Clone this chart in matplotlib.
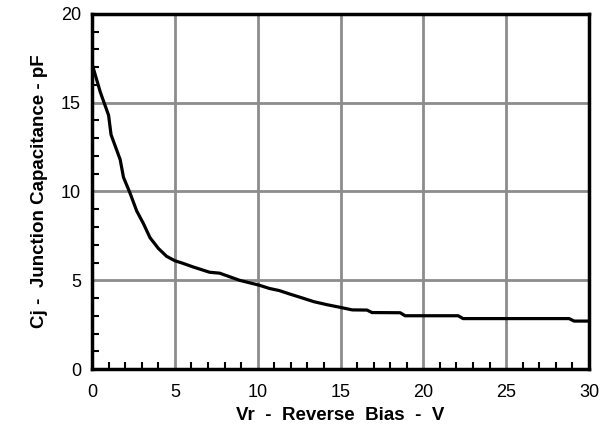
import matplotlib
matplotlib.use("Agg")
import matplotlib.pyplot as plt
from matplotlib.ticker import MultipleLocator

# reverse bias (V) and junction capacitance (pF)
vr = [0, 0.5, 1.0, 1.15, 1.7, 1.9, 2.3, 2.7, 3.1, 3.5, 4.0, 4.5, 5.0, 5.5,
      6.1, 6.6, 7.1, 7.7, 8.3, 8.9, 9.5, 10.1, 10.7, 11.3, 11.95, 12.7,
      13.4, 14.2, 15.0, 15.7, 16.6, 16.9, 18.6, 18.9, 22.1, 22.4, 28.8,
      29.1, 30.0]
cj = [17.2, 15.6, 14.3, 13.2, 11.8, 10.8, 9.9, 8.9, 8.2, 7.4, 6.8, 6.35,
      6.1, 5.95, 5.75, 5.6, 5.45, 5.4, 5.2, 5.0, 4.86, 4.72, 4.54, 4.42,
      4.22, 4.0, 3.79, 3.62, 3.47, 3.33, 3.32, 3.18, 3.17, 3.0, 3.0, 2.84,
      2.84, 2.7, 2.7]

x_ticks = [0, 5, 10, 15, 20, 25, 30]
y_ticks = [0, 5, 10, 15, 20]

plt.rcParams['font.family'] = ['Liberation Sans', 'DejaVu Sans']

fig = plt.figure(figsize=(6.13, 4.32), dpi=100)
ax = fig.add_axes([92/613, 63/432, 497/613, 355/432])

ax.plot(vr, cj, color='black', lw=2.3, zorder=3)

ax.set_xlim(0, 30)
ax.set_ylim(0, 20)
ax.set_xticks(x_ticks)
ax.set_yticks(y_ticks)
ax.xaxis.set_minor_locator(MultipleLocator(1))
ax.yaxis.set_minor_locator(MultipleLocator(1))
ax.tick_params(which='major', length=0, labelsize=13)
ax.tick_params(axis='x', which='major', pad=11)
ax.tick_params(axis='y', which='major', pad=8)
ax.tick_params(which='minor', direction='in', length=5, width=1.5,
               color='black')

ax.grid(True, which='major', color='#8c8c8c', lw=2)
ax.set_axisbelow(True)
for s in ax.spines.values():
    s.set_linewidth(2.5)
    s.set_color('black')
    s.set_zorder(4)

ax.set_xlabel('Vr  -  Reverse  Bias  -  V', fontsize=13.5, fontweight='bold',
              labelpad=4)
ax.set_ylabel('Cj -  Junction Capacitance - pF', fontsize=13.5,
              fontweight='bold', labelpad=9)

plt.savefig('out.png', dpi=100)
